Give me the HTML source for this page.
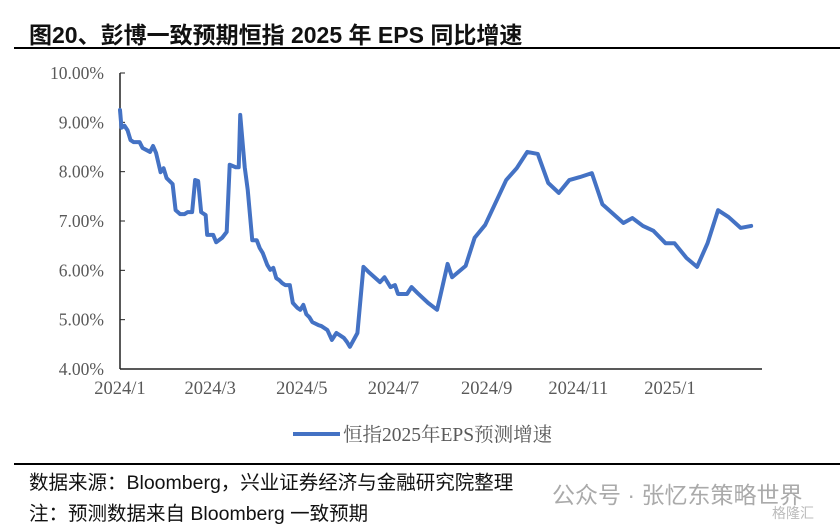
<!DOCTYPE html>
<html><head><meta charset="utf-8"><style>
body{margin:0;width:840px;height:525px;background:#fff;overflow:hidden;position:relative;font-family:"Liberation Sans","Noto Sans CJK SC",sans-serif}
.t{position:absolute;white-space:nowrap}
</style></head><body>
<div class="t" style="left:29px;top:16px;font-size:23px;font-weight:bold;color:#111">图20、彭博一致预期恒指 2025 年 EPS 同比增速</div>
<div style="position:absolute;left:14px;top:47px;width:826px;height:2px;background:#000"></div>
<svg id="chart" width="840" height="525" style="position:absolute;left:0;top:0"></svg>
<div style="position:absolute;left:14px;top:463px;width:826px;height:2px;background:#000"></div>
<div class="t" style="left:29px;top:466px;font-size:19.5px;color:#111">数据来源：Bloomberg，兴业证券经济与金融研究院整理</div>
<div class="t" style="left:29px;top:497px;font-size:19.5px;color:#111">注：预测数据来自 Bloomberg 一致预期</div>
<div class="t" style="left:552px;top:476px;font-size:23px;color:#aaa">公众号 · 张忆东策略世界</div>
<div class="t" style="left:772px;top:503px;font-size:14px;color:#bbb">格隆汇</div>
<script>
const days=[0,1,3,5,7,9,13,15,20,22,24,27,29,31,35,37,40,43,45,48,50,52,54,57,58,62,64,68,71,73,77,79,80,83,85,88,91,93,95,98,100,102,104,106,108,110,113,115,118,120,122,124,126,128,132,134,138,141,144,146,149,151,153,158,162,166,173,176,180,183,185,191,194,198,205,211,213,218,221,230,236,243,257,264,271,278,285,292,299,306,314,321,335,341,348,355,363,369,377,384,391,398,405,413,420];
const values=[9.25,8.89,8.93,8.84,8.64,8.60,8.60,8.48,8.40,8.52,8.38,7.99,8.07,7.87,7.75,7.22,7.14,7.14,7.18,7.18,7.83,7.81,7.18,7.12,6.72,6.72,6.57,6.66,6.78,8.14,8.09,8.09,9.15,8.09,7.63,6.61,6.61,6.45,6.35,6.11,6.01,6.05,5.84,5.80,5.74,5.70,5.70,5.34,5.24,5.20,5.30,5.11,5.05,4.95,4.89,4.87,4.79,4.59,4.73,4.69,4.63,4.55,4.45,4.73,6.07,5.95,5.76,5.86,5.66,5.70,5.52,5.52,5.66,5.54,5.34,5.20,5.46,6.13,5.86,6.09,6.66,6.92,7.83,8.07,8.40,8.36,7.77,7.57,7.83,7.89,7.97,7.34,6.96,7.06,6.90,6.80,6.55,6.55,6.25,6.07,6.55,7.22,7.08,6.86,6.90];
const yTicks=[4,5,6,7,8,9,10];
const xLabels=["2024/1","2024/3","2024/5","2024/7","2024/9","2024/11","2025/1"];
const xLabelDays=[0,60,121,182,244,305,366];
const seriesName="恒指2025年EPS预测增速";
const NS="http://www.w3.org/2000/svg";
const svg=document.getElementById('chart');
const X0=120,X1=762,Y0=369,Y1=73;
const xs=d=>X0+d*(550/366);
const ys=v=>Y0-(v-4)/6*(Y0-Y1);
function mk(tag,attrs,parent){const e=document.createElementNS(NS,tag);for(const k in attrs)e.setAttribute(k,attrs[k]);(parent||svg).appendChild(e);return e;}
yTicks.forEach(v=>{
 const tk=mk('line',{x1:X0,x2:X0+5,y1:ys(v),y2:ys(v),stroke:'#222','stroke-width':1});
 
 
 const t=mk('text',{x:104,y:ys(v)+6,'text-anchor':'end','font-family':'Liberation Serif,serif','font-size':17.5,fill:'#595959'});
 t.textContent=v.toFixed(2)+'%';
 
 
});
const ya=mk('line',{x1:X0,x2:X0,y1:Y1,y2:Y0,stroke:'#222','stroke-width':1.5});


const xa=mk('line',{x1:X0,x2:X1,y1:Y0,y2:Y0,stroke:'#222','stroke-width':1.5});


xLabels.forEach((l,i)=>{
 const t=mk('text',{x:xs(xLabelDays[i]),y:Y0+25,'text-anchor':'middle','font-family':'Liberation Serif,serif','font-size':18.5,fill:'#595959'});
 t.textContent=l;
 
 
});
const p=mk('polyline',{points:days.map((d,i)=>xs(d)+','+ys(values[i])).join(' '),fill:'none',stroke:'#4472c4','stroke-width':4,'stroke-linejoin':'round','stroke-linecap':'round'});


const ll=mk('line',{x1:293,x2:340,y1:434,y2:434,stroke:'#4472c4','stroke-width':4});


const lt=mk('text',{x:343,y:441,'font-family':'Liberation Serif,Noto Serif CJK SC,serif','font-size':19.5,fill:'#595959'});
lt.textContent=seriesName;


</script>
</body></html>
